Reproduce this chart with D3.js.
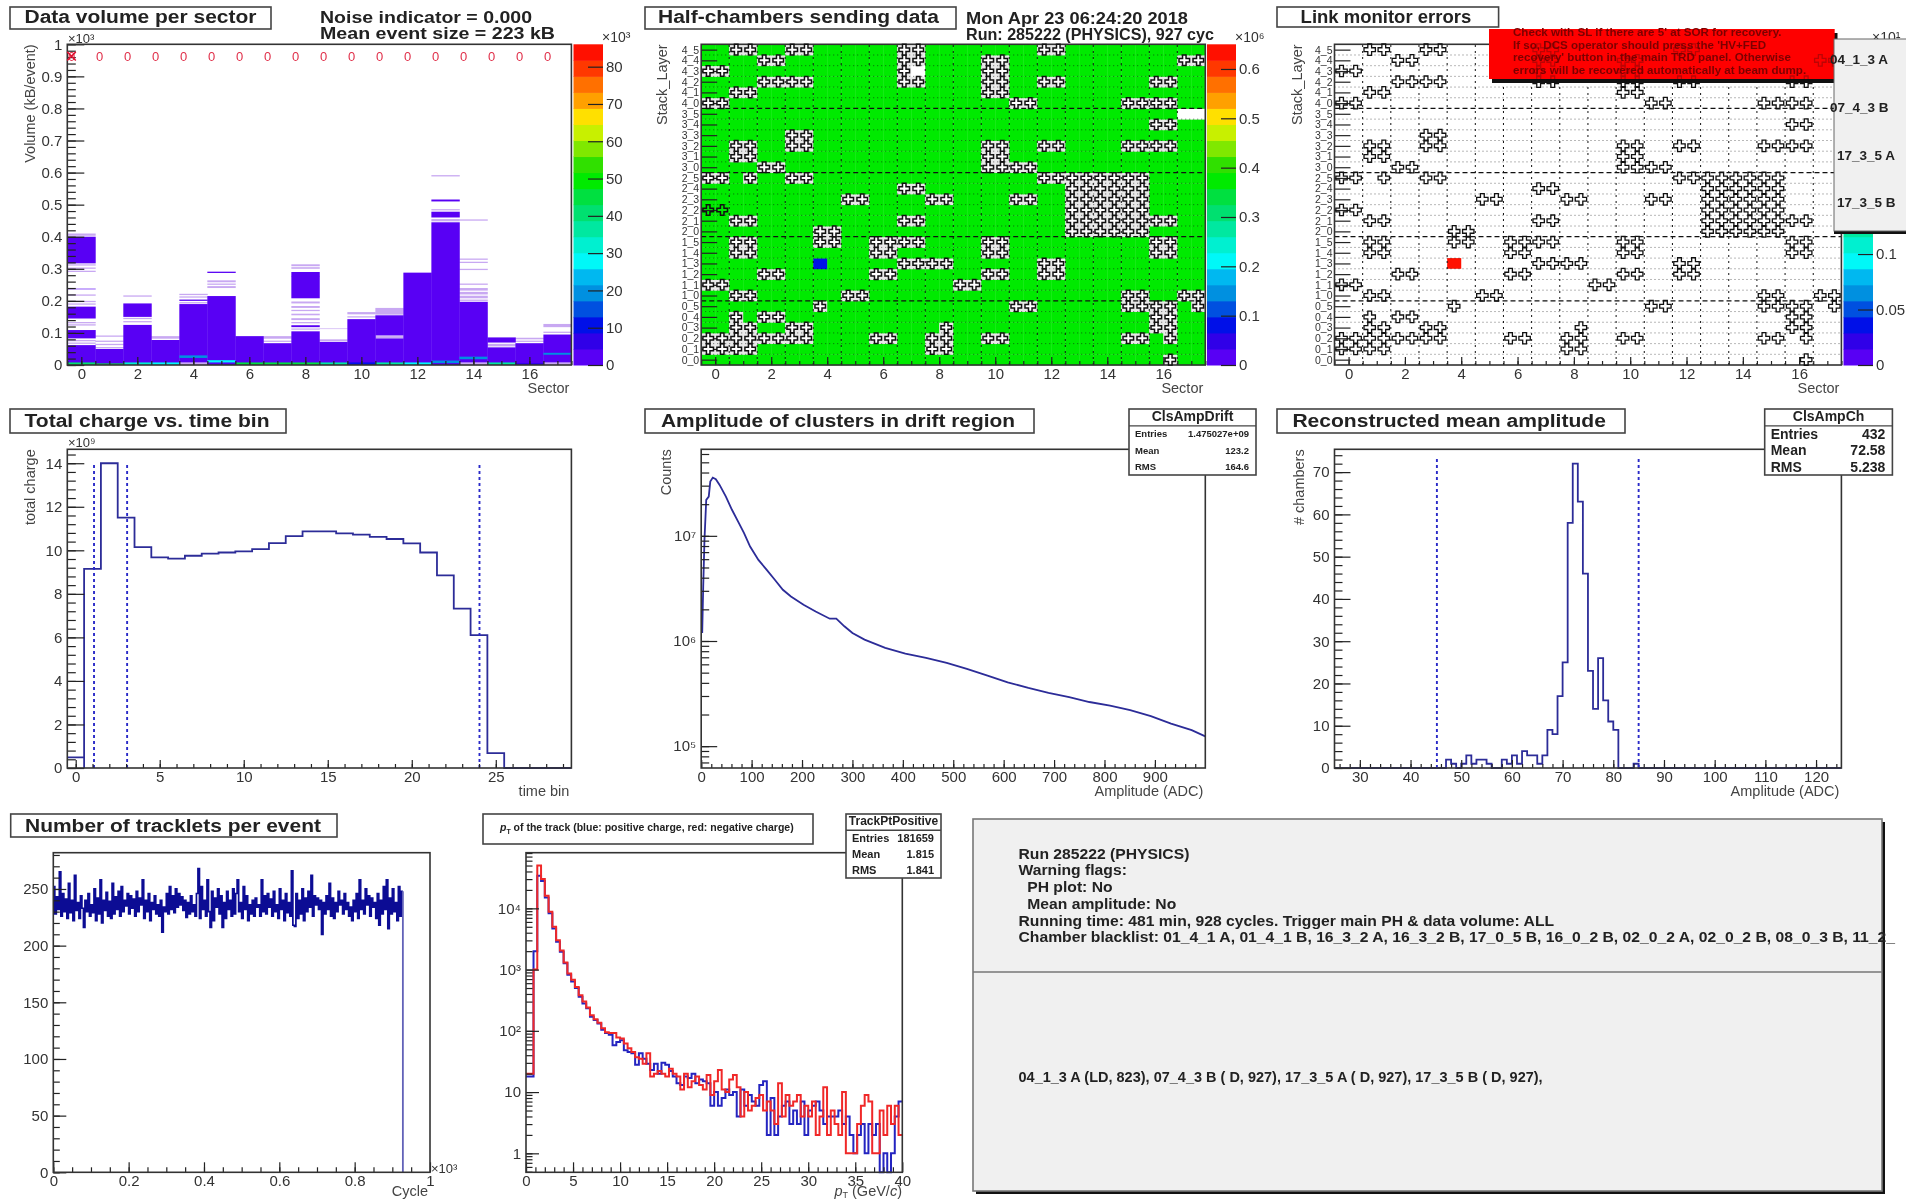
<!DOCTYPE html>
<html lang="en">
  <head>
    <meta charset="utf-8">
    <style type="text/css">
      html, body { margin: 0; padding: 0; background: white; overflow: hidden; }
      svg { display: block; filter: blur(0.6px); }
      text { font-family: "Liberation Sans", Arial, sans-serif; fill: #333; }
      .axis path { display: none; }
      .axis line { stroke: #222; stroke-width: 1.2px; }
      .axis text { font-size: 15px; fill: #333; }
      .frame { fill: none; stroke: #333; stroke-width: 1.6px; }
      .label { font-size: 14.5px; fill: #444; }
      .bold { font-weight: bold; fill: #222; }
    </style>
  </head>
  <body>
    <script src="https://cdnjs.cloudflare.com/ajax/libs/d3/7.8.5/d3.min.js" type="text/javascript"></script>
    <svg id="page" width="1906" height="1201"></svg>

    <script type="text/javascript">
// 20 colour bands, bottom to top of the palette
var paletteColors = ["#5800f4", "#3000e8", "#0010e8", "#0050e0", "#0090e0", "#00b8f0", "#00f8f8", "#00f0d0", "#00e8a0", "#00e070",
  "#00e040", "#00ea00", "#30e000", "#80e800", "#c8f000", "#ffe000", "#ffa000", "#ff7000", "#ff3800", "#ff1000"];

var sectors = d3.range(0, 18);
var sectorTicks = [0, 2, 4, 6, 8, 10, 12, 14, 16];
var sectorMinor = d3.range(-0.5, 17.6, 0.5);

// data volume, filled kB ranges per sector
var volumeSolid = [
  [[0, 62], [83, 109], [145, 182], [236, 238], [317, 400]],
  [[0, 50]],
  [[0, 125], [150, 192]],
  [[0, 78]],
  [[8, 190], [200, 204]],
  [[0, 215], [287, 291]],
  [[0, 90]],
  [[0, 68]],
  [[0, 105], [118, 124], [208, 290]],
  [[0, 72]],
  [[0, 143]],
  [[0, 83], [92, 155]],
  [[0, 288]],
  [[0, 445], [460, 478], [510, 516]],
  [[8, 197]],
  [[0, 55], [70, 86]],
  [[0, 68]],
  [[8, 95]]
];
// thin, half covered bins above the filled part
var volumePale = [
  [[66, 70], [74, 78], [123, 127], [130, 134], [188, 192], [196, 200], [216, 220], [290, 294], [300, 304], [310, 314], [403, 410]],
  [[52, 56], [62, 66], [72, 76], [88, 92]],
  [[133, 137], [143, 147], [213, 217]],
  [[82, 90]],
  [[0, 8], [192, 196], [210, 214], [218, 222]],
  [[240, 246], [250, 254], [258, 264]],
  [],
  [[72, 76], [82, 90]],
  [[110, 114], [130, 134], [140, 146], [155, 160], [168, 172], [178, 184], [192, 198], [275, 278], [300, 305], [308, 314]],
  [[74, 80], [112, 114]],
  [[148, 152], [158, 165]],
  [[84, 90], [157, 178]],
  [],
  [[448, 455], [482, 486], [588, 592]],
  [[0, 8], [200, 204], [208, 216], [220, 228], [232, 240], [250, 254], [296, 300], [318, 322], [328, 332], [450, 454]],
  [[58, 66]],
  [[72, 76], [80, 85]],
  [[0, 8], [100, 104], [118, 128]]
];
// sector, kB low, kB high, counts (x1000)
var volumeLow = [
  [0, 0, 8, 42], [1, 0, 5, 45], [2, 0, 8, 33], [3, 0, 8, 30], [4, 22, 30, 18], [5, 8, 15, 26], [6, 0, 8, 44], [7, 0, 8, 44], [8, 0, 8, 44],
  [9, 0, 8, 35], [10, 0, 8, 10], [11, 0, 8, 38], [12, 0, 8, 27], [13, 6, 14, 20], [14, 18, 26, 18], [15, 0, 8, 38], [16, 0, 6, 8], [17, 32, 38, 20]
];
var noiseLabels = ["0", "0", "0", "0", "0", "0", "0", "0", "0", "0", "0", "0", "0", "0", "0", "0", "0", "0"];
var volumeTicks = [0, 100, 200, 300, 400, 500, 600, 700, 800, 900, 1000];
var volumeMinor = d3.range(0, 1001, 20);

var stackLayer = ["0_0", "0_1", "0_2", "0_3", "0_4", "0_5", "1_0", "1_1", "1_2", "1_3", "1_4", "1_5", "2_0", "2_1", "2_2",
  "2_3", "2_4", "2_5", "3_0", "3_1", "3_2", "3_3", "3_4", "3_5", "4_0", "4_1", "4_2", "4_3", "4_4", "4_5"];

// half chamber indices with a marker, one list per stack_layer row
var markedHalves = [
  [33],
  [0, 1, 2, 3, 16, 17],
  [0, 1, 2, 3, 4, 5, 6, 7, 12, 13, 16, 17, 20, 21, 30, 31, 33],
  [2, 3, 6, 7, 17, 32, 33],
  [2, 4, 5, 32, 33],
  [8, 22, 23, 30, 31, 32, 33, 35],
  [2, 3, 10, 11, 30, 31, 34, 35],
  [0, 1, 18, 19],
  [4, 5, 12, 13, 20, 21, 24, 25],
  [14, 15, 16, 17, 24, 25],
  [2, 3, 12, 13, 20, 21, 32, 33],
  [2, 3, 8, 9, 12, 13, 14, 15, 20, 21, 32, 33],
  [8, 9, 26, 27, 28, 29, 30, 31],
  [2, 3, 14, 15, 26, 27, 28, 29, 30, 31, 32, 33],
  [0, 1, 26, 27, 28, 29, 30, 31],
  [10, 11, 16, 17, 22, 23, 26, 27, 28, 29, 30, 31],
  [14, 15, 26, 27, 28, 29, 30, 31],
  [0, 1, 3, 6, 7, 24, 25, 26, 27, 28, 29, 30, 31],
  [4, 5, 20, 21, 22, 23],
  [2, 3, 20, 21],
  [2, 3, 6, 7, 20, 21, 24, 25, 30, 31, 32, 33],
  [6, 7],
  [32, 33],
  [],
  [0, 1, 22, 23, 30, 31, 32, 33],
  [2, 3, 20, 21],
  [4, 5, 6, 7, 14, 15, 20, 21, 24, 25, 32, 33],
  [0, 1, 14, 20, 21],
  [4, 5, 14, 15, 20, 21, 34, 35],
  [2, 3, 6, 7, 14, 15, 24, 25]
];
// row, half chamber: sending nothing (white, no marker)
var emptyHalves = [[27, 15], [23, 34], [23, 35]];
// row, half chamber: marker but still sending
var sendingMarked = [[14, 0], [14, 1]];
var weakHalf = [9, 8];
var halfValue = 0.36;
var weakValue = 0.07;
var errorValue = 0.28;

var chargeBins = [0.49, 9.15, 14, 11.5, 10.15, 9.68, 9.62, 9.75, 9.85, 9.9, 9.95, 10.05, 10.33, 10.65, 10.87,
  10.87, 10.78, 10.72, 10.62, 10.52, 10.32, 9.9, 8.85, 7.32, 6.1, 0.68, 0, 0, 0, 0];
var chargeMarks = [1.09, 3.06, 24.03];

var ampX = [2, 4, 6.5, 10, 15, 18, 23, 29, 36.5, 49, 61, 73, 85, 97, 113.5, 130, 146, 162, 178, 203, 227, 255, 268, 284, 300, 324,
  365, 405, 446, 487, 527, 568, 608, 649, 689, 730, 770, 811, 851, 892, 932, 973, 1000];
var ampCounts = [1.19e6, 3.3e6, 9.16e6, 2.2e7, 2.36e7, 3.28e7, 3.58e7, 3.45e7, 3.05e7, 2.36e7, 1.77e7, 1.37e7, 1.06e7, 7.9e6, 5.9e6, 4.75e6,
  3.82e6, 3.07e6, 2.65e6, 2.21e6, 1.91e6, 1.63e6, 1.63e6, 1.38e6, 1.19e6, 1.03e6, 8.6e5, 7.6e5, 6.9e5, 6.18e5, 5.42e5, 4.69e5, 4.05e5,
  3.58e5, 3.21e5, 2.92e5, 2.63e5, 2.43e5, 2.2e5, 1.93e5, 1.64e5, 1.42e5, 1.24e5];

// one count per ADC unit, first bin starts at 25
var meanAmpBins = [0, 0, 0, 0, 0, 0, 0, 0, 0, 0, 0, 0, 0, 0, 0, 0, 0, 0, 0, 0, 0, 0,
  2, 1, 0, 1, 3, 1, 2, 2, 1, 0, 0, 2, 1, 3, 1, 4, 3, 3, 1, 3, 9, 8, 17, 25, 58, 72, 63, 46, 23, 14, 26, 16, 11, 9,
  0, 0, 0, 1, 0, 0, 0, 0, 0, 0, 0, 0, 0, 0, 0, 0, 0, 0, 0, 0, 0, 0, 0, 0, 0, 0, 0, 0, 0, 0, 0, 0, 0, 0, 0, 0, 0, 0, 0, 0, 0, 0, 0, 0];
var meanAmpMarks = [45.2, 85];

// tracklets per event, one value per 4 cycles
var tracklets = [
  252, 228, 243, 232, 265, 226, 246, 230, 241, 224, 255, 229, 240, 222, 262, 231, 238, 224, 244, 233,
  216, 240, 230, 246, 226, 236, 229, 250, 222, 242, 228, 258, 220, 240, 231, 247, 226, 239, 224, 255,
  228, 243, 232, 248, 226, 252, 230, 240, 235, 246, 228, 244, 233, 241, 226, 248, 230, 242, 236, 258,
  224, 240, 230, 246, 222, 238, 232, 244, 228, 236, 226, 240, 212, 234, 230, 246, 228, 252, 232, 244,
  229, 250, 234, 246, 236, 243, 231, 240, 225, 238, 228, 244, 230, 236, 226, 246, 268, 224, 252, 232,
  240, 226, 258, 230, 216, 248, 222, 242, 234, 250, 228, 244, 216, 238, 224, 248, 232, 240, 226, 250,
  228, 246, 258, 230, 238, 224, 252, 232, 244, 222, 236, 228, 240, 226, 242, 234, 236, 226, 258, 230,
  244, 228, 246, 234, 241, 226, 248, 230, 236, 224, 250, 232, 240, 222, 246, 229, 238, 226, 266, 218,
  217, 246, 224, 240, 228, 250, 222, 242, 230, 248, 234, 262, 226, 244, 236, 242, 232, 240, 210, 238,
  228, 244, 232, 255, 226, 242, 224, 238, 230, 248, 236, 240, 228, 246, 232, 238, 226, 234, 222, 240,
  230, 246, 224, 258, 232, 240, 228, 250, 236, 244, 226, 242, 234, 238, 224, 246, 218, 240, 228, 252,
  232, 258, 215, 242, 228, 250, 230, 238, 222, 252, 226, 248];

// pt histograms, bins of 0.4 GeV
var ptPositive = [18, 18, 2000, 34000, 28000, 15000, 8300, 4700, 2850, 1960, 1270, 820, 640, 500, 360, 280, 233, 170, 150, 132, 104, 92, 86, 58,
  66, 70, 48, 45, 43, 28, 43, 35, 29, 23, 29, 20, 30, 28, 22, 18, 14, 13, 18, 17, 20, 14, 16, 15, 14, 6, 10, 6, 8, 11, 9, 10, 4, 11, 6, 9, 7, 6, 13, 15,
  2, 8, 2, 4, 6, 7, 3, 5, 3, 7, 2, 5, 6, 7, 5, 3, 4, 4, 4, 5, 3, 4, 2, 1, 2, 3, 1, 3, 2, 3, 0, 1, 0, 1, 4, 7];
var ptNegative = [20, 20, 1000, 50000, 30000, 16000, 8800, 5000, 3000, 2050, 1300, 860, 680, 520, 380, 300, 240, 180, 155, 135, 110, 95, 92, 92,
  78, 75, 62, 52, 45, 37, 35, 29, 43, 18, 20, 22, 20, 18, 24, 20, 18, 11, 20, 12, 15, 18, 13, 11, 19, 9, 15, 23, 11, 10, 16, 19, 12, 4, 10, 5, 6, 8, 9, 5,
  7, 5, 3, 14, 4, 9, 6, 7, 9, 4, 6, 4, 7, 2, 4, 12, 2, 5, 3, 2, 10, 1, 1, 1, 3, 6, 9, 7, 1, 1, 5, 2, 6, 3, 6, 2];

var summaryLines = ["Run 285222 (PHYSICS)", "Warning flags:", "  PH plot: No", "  Mean amplitude: No",
  "Running time: 481 min, 928 cycles. Trigger main PH & data volume: ALL",
  "Chamber blacklist: 01_4_1 A, 01_4_1 B, 16_3_2 A, 16_3_2 B, 17_0_5 B, 16_0_2 B, 02_0_2 A, 02_0_2 B, 08_0_3 B, 11_2_"];
var errorSummary = "04_1_3 A (LD, 823), 07_4_3 B ( D, 927), 17_3_5 A ( D, 927), 17_3_5 B ( D, 927),";
var warningLines = ["Check with SL if there are 5' at SOR for recovery.", "If so, DCS operator should press the 'HV+FED",
  "recovery' button in the main TRD panel. Otherwise", "errors will be recovered automatically at beam dump."];

var svg = d3.select("#page");

function titleBox(x0, y0, x1, y1, text, textX, baseline, textWidth, size) {
  svg.append("rect").attr("x", x0).attr("y", y0).attr("width", x1 - x0).attr("height", y1 - y0)
    .style("fill", "white").style("stroke", "#444").style("stroke-width", 1.6);
  return svg.append("text").attr("class", "bold").attr("x", textX).attr("y", baseline)
    .attr("textLength", textWidth).attr("lengthAdjust", "spacingAndGlyphs")
    .style("font-size", (size || 18) + "px").text(text);
}

function statsBox(x0, y0, x1, y1, name, rows, size, nameSize) {
  var sep = y0 + (y1 - y0) * 0.255;
  var g = svg.append("g");
  g.append("rect").attr("x", x0).attr("y", y0).attr("width", x1 - x0).attr("height", y1 - y0)
    .style("fill", "white").style("stroke", "#444").style("stroke-width", 1.6);
  g.append("line").attr("x1", x0).attr("x2", x1).attr("y1", sep).attr("y2", sep).style("stroke", "#444").style("stroke-width", 1.4);
  g.append("text").attr("class", "bold").attr("x", (x0 + x1) / 2).attr("y", sep - 5).attr("text-anchor", "middle")
    .style("font-size", nameSize + "px").text(name);
  rows.forEach(function(r, i) {
    var y = sep + (y1 - sep) * (i + 0.5) / rows.length + size * 0.36;
    g.append("text").attr("class", "bold").attr("x", x0 + 6).attr("y", y).style("font-size", size + "px").text(r[0]);
    g.append("text").attr("class", "bold").attr("x", x1 - 7).attr("y", y).attr("text-anchor", "end").style("font-size", size + "px").text(r[1]);
  });
}

// ticks point into the frame, the shorter set has no labels
function axes(x, y, opt) {
  var bottom = y.range()[0], left = x.range()[0];
  var fx = opt.xFormat || function(d) { return d; };
  var fy = opt.yFormat || function(d) { return d; };
  svg.append("g").attr("class", "axis").attr("transform", "translate(0," + bottom + ")")
    .call(d3.axisBottom(x).tickValues(opt.xMinor).tickSize(-opt.xLen / 2).tickFormat(""));
  svg.append("g").attr("class", "axis").attr("transform", "translate(0," + bottom + ")")
    .call(d3.axisBottom(x).tickValues(opt.xMajor).tickSize(-opt.xLen).tickPadding(3).tickFormat(fx));
  svg.append("g").attr("class", "axis").attr("transform", "translate(" + left + ",0)")
    .call(d3.axisLeft(y).tickValues(opt.yMinor).tickSize(-opt.yLen / 2).tickFormat(""));
  svg.append("g").attr("class", "axis").attr("transform", "translate(" + left + ",0)")
    .call(d3.axisLeft(y).tickValues(opt.yMajor).tickSize(-opt.yLen).tickPadding(5).tickFormat(fy));
  svg.append("rect").attr("class", "frame").attr("x", left).attr("y", y.range()[1])
    .attr("width", x.range()[1] - left).attr("height", bottom - y.range()[1]);
  svg.append("text").attr("class", "label").attr("x", x.range()[1] - 2).attr("y", bottom + (opt.xTitleDy || 28))
    .attr("text-anchor", "end").text(opt.xTitle);
  svg.append("text").attr("class", "label").attr("transform", "translate(" + (left + opt.yTitleDx) + "," + y.range()[1] + ") rotate(-90)")
    .attr("text-anchor", "end").text(opt.yTitle);
}

function palette(x0, x1, y0, y1, max, ticks, format, exponent) {
  var y = d3.scaleLinear().domain([0, max]).range([y1, y0]);
  var bands = d3.scaleBand().domain(d3.range(paletteColors.length)).range([y1, y0]);
  svg.append("g").selectAll("rect").data(paletteColors).enter().append("rect")
    .attr("x", x0).attr("width", x1 - x0)
    .attr("y", function(d, i) { return bands(i); })
    .attr("height", bands.bandwidth() + 0.5)
    .style("fill", function(d) { return d; });
  svg.append("g").attr("class", "axis").attr("transform", "translate(" + x1 + ",0)")
    .call(d3.axisRight(y).tickValues(ticks).tickSize(-15).tickPadding(3).tickFormat(format));
  svg.append("text").attr("x", x1 - 1).attr("y", y0 - 2).style("font-size", "14px").text(exponent);
  return d3.scaleQuantize().domain([0, max]).range(paletteColors);
}

function stepLine(x, y, edges, values, color, width) {
  var points = values.map(function(v, i) { return [edges(i), v]; });
  points.push([edges(values.length), values[values.length - 1]]);
  return svg.append("path").datum(points)
    .attr("d", d3.line().curve(d3.curveStepAfter)
      .x(function(d) { return x(d[0]); })
      .y(function(d) { return y(Math.max(d[1], y.domain()[0])); }))
    .style("fill", "none").style("stroke", color).style("stroke-width", width);
}

function markLines(x, y, values, top) {
  svg.append("g").selectAll("line").data(values).enter().append("line")
    .attr("x1", function(d) { return x(d); }).attr("x2", function(d) { return x(d); })
    .attr("y1", y(0)).attr("y2", y(top))
    .style("stroke", "#2a2ac8").style("stroke-width", 1.9).style("stroke-dasharray", "3,3");
}

function logTicks(decades) {
  var out = [];
  decades.forEach(function(d) { d3.range(1, 10).forEach(function(m) { out.push(d * m); }); });
  return out;
}

// ---- data volume ----
var pal1 = palette(573.5, 603, 44.3, 365, 86, [0, 10, 20, 30, 40, 50, 60, 70, 80], function(d) { return d; }, "×10³");
var x1 = d3.scaleLinear().domain([-0.5, 17.5]).range([67.3, 571.4]);
var y1 = d3.scaleLinear().domain([0, 1000]).range([365, 44.3]);

function volumeRects(list, color) {
  sectors.forEach(function(s) {
    svg.append("g").selectAll("rect").data(list[s]).enter().append("rect")
      .attr("x", x1(s - 0.5)).attr("width", x1(s + 0.5) - x1(s - 0.5) + 0.4)
      .attr("y", function(d) { return y1(d[1]); })
      .attr("height", function(d) { return y1(d[0]) - y1(d[1]); })
      .style("fill", color);
  });
}
volumeRects(volumePale, "#c8a8f2");
volumeRects(volumeSolid, pal1(1));
svg.append("g").selectAll("rect").data(volumeLow).enter().append("rect")
  .attr("x", function(d) { return x1(d[0] - 0.5); }).attr("width", x1(1) - x1(0))
  .attr("y", function(d) { return y1(d[2]); })
  .attr("height", function(d) { return y1(d[1]) - y1(d[2]); })
  .style("fill", function(d) { return pal1(d[3]); });

axes(x1, y1, {
  xMajor: sectorTicks, xMinor: sectorMinor, xLen: 8, yMajor: volumeTicks, yMinor: volumeMinor, yLen: 17,
  yFormat: function(d) { return d == 0 ? "0" : d == 1000 ? "1" : d3.format(".1f")(d / 1000); },
  xTitle: "Sector", yTitle: "Volume (kB/event)", yTitleDx: -32
});
svg.append("text").attr("x", 68).attr("y", 43).style("font-size", "13px").text("×10³");

svg.append("g").selectAll("text").data(noiseLabels).enter().append("text")
  .attr("x", function(d, i) { return x1(i - 0.35); })
  .attr("y", y1(963) + 4.5).attr("text-anchor", "middle")
  .style("font-size", "13px").style("fill", "#e0304a").text(function(d) { return d; });
svg.append("path").attr("transform", "translate(" + x1(-0.35) + "," + y1(963) + ")")
  .attr("d", d3.symbol().type(d3.symbolX).size(50)()).style("stroke", "#e01030").style("stroke-width", 1.5);

titleBox(10, 7, 271, 29, "Data volume per sector", 24.5, 23, 232);
svg.append("text").attr("class", "bold").attr("x", 320).attr("y", 23).attr("textLength", 212).attr("lengthAdjust", "spacingAndGlyphs")
  .style("font-size", "17px").text("Noise indicator = 0.000");
svg.append("text").attr("class", "bold").attr("x", 320).attr("y", 39).attr("textLength", 235).attr("lengthAdjust", "spacingAndGlyphs")
  .style("font-size", "17px").text("Mean event size = 223 kB");

// ---- half chamber maps ----
function isEmpty(r, h) { return emptyHalves.some(function(e) { return e[0] == r && e[1] == h; }); }
function isSending(r, h) { return sendingMarked.some(function(e) { return e[0] == r && e[1] == h; }); }

function chamberMap(left, right, yTitleDx, sending, pal) {
  var x = d3.scaleLinear().domain([-0.5, 17.5]).range([left, right]);
  var y = d3.scaleLinear().domain([0, 30]).range([365, 44.3]);
  var halfX = function(h) { return x(h / 2 - 0.5); };
  var halfW = (right - left) / 36;
  var rowH = y(0) - y(1);
  var cells = svg.append("g");

  if (sending) {
    d3.range(30).forEach(function(r) {
      cells.append("g").selectAll("rect").data(d3.range(36)).enter().append("rect")
        .attr("x", function(h) { return halfX(h); }).attr("y", y(r + 1))
        .attr("width", halfW + 0.4).attr("height", rowH + 0.4)
        .style("fill", function(h) {
          if (isEmpty(r, h)) return "white";
          if (markedHalves[r].indexOf(h) >= 0 && !isSending(r, h)) return "#e8e8e8";
          if (r == weakHalf[0] && h == weakHalf[1]) return pal(weakValue);
          return pal(halfValue);
        });
    });
  } else {
    cells.append("rect").attr("x", halfX(weakHalf[1])).attr("y", y(weakHalf[0] + 1))
      .attr("width", halfW).attr("height", rowH).style("fill", pal(errorValue));
  }

  // grid
  var grid = svg.append("g").style("stroke", "#111").style("fill", "none");
  grid.selectAll(".row").data(d3.range(1, 30)).enter().append("line")
    .attr("x1", left).attr("x2", right)
    .attr("y1", function(d) { return y(d); }).attr("y2", function(d) { return y(d); })
    .style("stroke-width", function(d) { return d % 6 == 0 ? 1.2 : 0.6; })
    .style("stroke-dasharray", function(d) { return d % 6 == 0 ? "5,3" : "1,3"; });
  grid.selectAll(".col").data(d3.range(0, 17)).enter().append("line")
    .attr("x1", function(d) { return x(d + 0.5); }).attr("x2", function(d) { return x(d + 0.5); })
    .attr("y1", y(0)).attr("y2", y(30))
    .style("stroke-width", 1).style("stroke-dasharray", "2,4");

  axes(x, y, {
    xMajor: sectorTicks, xMinor: sectorMinor, xLen: 8, yMajor: d3.range(30).map(function(r) { return r + 0.5; }), yMinor: [], yLen: 16,
    yFormat: function(d) { return stackLayer[d - 0.5]; }, xTitle: "Sector", yTitle: "Stack_Layer", yTitleDx: yTitleDx
  });
  svg.selectAll(".axis text").filter(function(d) { return stackLayer[d - 0.5] && this.parentNode.parentNode.getAttribute("transform") == "translate(" + left + ",0)"; })
    .style("font-size", "10.5px").attr("x", -2);

  return function() {
    var marks = svg.append("g");
    d3.range(30).forEach(function(r) {
      marks.append("g").selectAll("path").data(markedHalves[r]).enter().append("path")
        .attr("transform", function(h) { return "translate(" + (halfX(h) + halfW / 2) + "," + (y(r) - rowH / 2) + ")"; })
        .attr("d", d3.symbol().type(d3.symbolCross).size(sending ? 62 : 72)())
        .style("fill", function(h) { return sending && !isSending(r, h) ? "white" : "none"; })
        .style("stroke", "#111").style("stroke-width", sending ? 1.5 : 1.3);
    });
  };
}

var pal2 = palette(1207, 1236, 44.3, 365, 0.65, [0, 0.1, 0.2, 0.3, 0.4, 0.5, 0.6], function(d) { return d; }, "×10⁶");
chamberMap(701.2, 1205.3, -34, true, pal2)();
titleBox(645, 7, 956, 29, "Half-chambers sending data", 658, 23, 281);
svg.append("text").attr("class", "bold").attr("x", 966).attr("y", 24).attr("textLength", 222).attr("lengthAdjust", "spacingAndGlyphs")
  .style("font-size", "16.5px").text("Mon Apr 23 06:24:20 2018");
svg.append("text").attr("class", "bold").attr("x", 966).attr("y", 40).attr("textLength", 248).attr("lengthAdjust", "spacingAndGlyphs")
  .style("font-size", "16.5px").text("Run: 285222 (PHYSICS), 927 cyc");

var pal3 = palette(1843.5, 1873, 44.3, 365, 0.289, [0, 0.05, 0.1], function(d) { return d; }, "×10¹");
var linkMarks = chamberMap(1334.5, 1841.4, -33, false, pal3);

svg.append("rect").attr("x", 1492).attr("y", 33).attr("width", 345.5).attr("height", 50).style("fill", "#111");
svg.append("rect").attr("x", 1489).attr("y", 29).attr("width", 345.5).attr("height", 50).style("fill", "#fe0000");
linkMarks();
svg.append("rect").attr("x", 1489).attr("y", 29).attr("width", 345.5).attr("height", 50).style("fill", "#fe0000").style("opacity", 0.72);
warningLines.forEach(function(t, i) {
  svg.append("text").attr("x", 1513).attr("y", 36 + i * 12.7).style("font-size", "11.6px").style("font-weight", "bold").style("fill", "#7c0000").text(t);
});

svg.append("rect").attr("x", 1834).attr("y", 39).attr("width", 76).attr("height", 195).style("fill", "#111");
svg.append("rect").attr("x", 1834).attr("y", 39).attr("width", 76).attr("height", 192).style("fill", "#f0f0f0").style("stroke", "#666");
[["04_1_3 A", 1830, 64], ["07_4_3 B", 1830, 112], ["17_3_5 A", 1837, 160], ["17_3_5 B", 1837, 207]].forEach(function(d) {
  svg.append("text").attr("class", "bold").attr("x", d[1]).attr("y", d[2]).style("font-size", "13.5px").text(d[0]);
});
titleBox(1277, 7, 1498.6, 27, "Link monitor errors", 1300.6, 23, 170.6);

// ---- total charge ----
var x4 = d3.scaleLinear().domain([-0.5, 29.5]).range([67.3, 571.4]);
var y4 = d3.scaleLinear().domain([0, 14.64]).range([768, 449.3]);
stepLine(x4, y4, function(i) { return i - 0.5; }, chargeBins, "#2c2c98", 1.8);
svg.append("line").attr("x1", x4(0.5)).attr("x2", x4(0.5)).attr("y1", y4(0)).attr("y2", y4(chargeBins[0]))
  .style("stroke", "#2c2c98").style("stroke-width", 1.8);
markLines(x4, y4, chargeMarks, 14);
axes(x4, y4, {
  xMajor: [0, 5, 10, 15, 20, 25], xMinor: d3.range(0, 30), xLen: 8, yMajor: [0, 2, 4, 6, 8, 10, 12, 14], yMinor: d3.range(0, 14.6, 0.4), yLen: 17,
  xTitle: "time bin", yTitle: "total charge", yTitleDx: -32
});
svg.append("text").attr("x", 68).attr("y", 447).style("font-size", "13px").text("×10⁹");
titleBox(10, 409, 286, 433, "Total charge vs. time bin", 24.5, 427, 245);

// ---- cluster amplitude ----
var x5 = d3.scaleLinear().domain([0, 1000]).range([701.2, 1205.3]);
var y5 = d3.scaleLog().domain([62000, 6.65e7]).range([768, 449.3]);
svg.append("path").datum(ampX)
  .attr("d", d3.line().x(function(d) { return x5(d); }).y(function(d, i) { return y5(ampCounts[i]); }))
  .style("fill", "none").style("stroke", "#2c2c98").style("stroke-width", 1.8);
axes(x5, y5, {
  xMajor: d3.range(0, 901, 100), xMinor: d3.range(0, 1000, 20), xLen: 8,
  yMajor: [1e5, 1e6, 1e7], yMinor: logTicks([1e4, 1e5, 1e6, 1e7]).filter(function(v) { return v >= 62000 && v <= 6.65e7; }), yLen: 16,
  yFormat: function(d) { return d == 1e5 ? "10⁵" : d == 1e6 ? "10⁶" : "10⁷"; },
  xTitle: "Amplitude (ADC)", yTitle: "Counts", yTitleDx: -30
});
titleBox(645, 409, 1034, 433, "Amplitude of clusters in drift region", 661, 427, 354);
statsBox(1129, 409, 1256, 475, "ClsAmpDrift", [["Entries", "1.475027e+09"], ["Mean", "123.2"], ["RMS", "164.6"]], 9.5, 14);

// ---- mean amplitude ----
var x6 = d3.scaleLinear().domain([25, 125]).range([1334.5, 1841.4]);
var y6 = d3.scaleLinear().domain([0, 75.4]).range([768, 449.3]);
stepLine(x6, y6, function(i) { return i + 25; }, meanAmpBins, "#2c2c98", 1.8);
markLines(x6, y6, meanAmpMarks, 73.3);
axes(x6, y6, {
  xMajor: d3.range(30, 121, 10), xMinor: d3.range(26, 125, 2), xLen: 8, yMajor: d3.range(0, 71, 10), yMinor: d3.range(0, 75, 2), yLen: 16,
  xTitle: "Amplitude (ADC)", yTitle: "# chambers", yTitleDx: -31
});
titleBox(1277, 409, 1625, 433, "Reconstructed mean amplitude", 1292.4, 427, 313.5);
statsBox(1764.7, 409, 1892.4, 475, "ClsAmpCh", [["Entries", "432"], ["Mean", "72.58"], ["RMS", "5.238"]], 14, 14);

// ---- tracklets ----
var x7 = d3.scaleLinear().domain([0, 1000]).range([53.3, 430]);
var y7 = d3.scaleLinear().domain([0, 282]).range([1172.3, 852.7]);
stepLine(x7, y7, function(i) { return i * 4; }, tracklets, "#0c0c94", 1.7);
svg.append("line").attr("x1", x7(928)).attr("x2", x7(928)).attr("y1", y7(tracklets[tracklets.length - 1])).attr("y2", y7(0))
  .style("stroke", "#6262b8").style("stroke-width", 1.8);
axes(x7, y7, {
  xMajor: [0, 200, 400, 600, 800, 1000], xMinor: d3.range(0, 1000, 50), xLen: 10, yMajor: [0, 50, 100, 150, 200, 250], yMinor: d3.range(0, 281, 10), yLen: 13,
  xFormat: function(d) { return d == 0 ? "0" : d == 1000 ? "1" : d3.format(".1f")(d / 1000); },
  xTitle: "Cycle", xTitleDy: 24, yTitle: "", yTitleDx: -30
});
svg.append("text").attr("x", 431).attr("y", 1173).style("font-size", "13px").text("×10³");
titleBox(10.7, 814, 337, 837, "Number of tracklets per event", 25, 832, 296);

// ---- pt ----
var x8 = d3.scaleLinear().domain([0, 40]).range([526, 902.3]);
var y8 = d3.scaleLog().domain([0.49, 81000]).range([1172.3, 852.7]);
stepLine(x8, y8, function(i) { return i * 0.4; }, ptPositive, "#2424c0", 2);
stepLine(x8, y8, function(i) { return i * 0.4; }, ptNegative, "#f02828", 2);
axes(x8, y8, {
  xMajor: [0, 5, 10, 15, 20, 25, 30, 35, 40], xMinor: d3.range(0, 40, 1), xLen: 10,
  yMajor: [1, 10, 100, 1000, 10000],
  yMinor: logTicks([0.1, 1, 10, 100, 1000, 10000]).filter(function(v) { return v >= 0.49 && v <= 81000; }), yLen: 13,
  yFormat: function(d) { return d == 1 ? "1" : d == 10 ? "10" : d == 100 ? "10²" : d == 1000 ? "10³" : "10⁴"; },
  xTitle: "", yTitle: "", yTitleDx: -30
});
svg.append("text").attr("class", "label").attr("x", 902).attr("y", 1196).attr("text-anchor", "end")
  .html('<tspan font-style="italic">p</tspan><tspan dy="2" font-size="9">T</tspan><tspan dy="-2"> (GeV/</tspan><tspan font-style="italic">c</tspan>)');
titleBox(483, 814, 813, 844, "", 500, 831, null, 10.5).attr("textLength", null)
  .html('<tspan font-style="italic">p</tspan><tspan dy="2.5" font-size="7">T</tspan><tspan dy="-2.5"> of the track (blue: positive charge, red: negative charge)</tspan>');
statsBox(846, 814, 941, 878, "TrackPtPositive", [["Entries", "181659"], ["Mean", "1.815"], ["RMS", "1.841"]], 11, 12);

// ---- summary ----
svg.append("rect").attr("x", 976).attr("y", 822).attr("width", 909).attr("height", 372).style("fill", "#111");
svg.append("rect").attr("x", 973).attr("y", 819).attr("width", 909).attr("height", 372).style("fill", "#f0f0f0").style("stroke", "#777").style("stroke-width", 1.6);
svg.append("line").attr("x1", 973).attr("x2", 1882).attr("y1", 972).attr("y2", 972).style("stroke", "#777").style("stroke-width", 1.6);
summaryLines.forEach(function(t, i) {
  svg.append("text").attr("class", "bold")
    .attr("transform", "translate(1018.5," + (858.5 + i * 16.75) + ") scale(1.122,1)")
    .attr("xml:space", "preserve").style("white-space", "pre").style("font-size", "14px").text(t);
});
svg.append("text").attr("class", "bold").attr("transform", "translate(1018.5,1082) scale(1.036,1)").style("font-size", "14px").text(errorSummary);

    </script>
  </body>
</html>
